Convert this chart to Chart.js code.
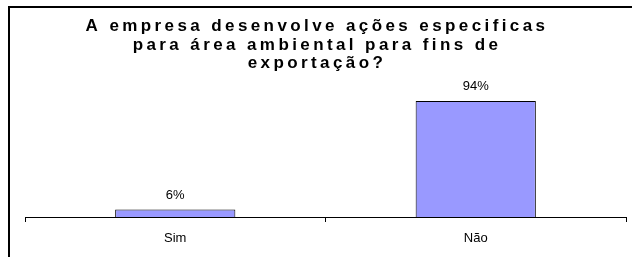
<!DOCTYPE html>
<html>
<head>
  <meta charset="utf-8" />
  <title>Ações ambientais para exportação</title>
  <style>
    html, body { margin: 0; padding: 0; background: #fff; }
    body { width: 632px; height: 257px; position: relative; overflow: hidden; }
    #frame { position: absolute; left: 8px; top: 6px; width: 640px; height: 270px;
             border-top: 2px solid #000; border-left: 2px solid #000; }
    .chart-box { position: absolute; left: 0; top: 0; width: 632px; height: 257px; }
  </style>
</head>
<body>
<div id="frame"></div>
<div class="chart-box">
  <canvas id="chart"></canvas>
</div>

<script src="https://cdn.jsdelivr.net/npm/chart.js"></script>
<script>
  // data
  var categories = ['Sim', 'Não'];
  var percentages = [6, 94];
  var titleLines = [
    'A empresa desenvolve ações especificas',
    'para área ambiental para fins de',
    'exportação?'
  ];

  // wide letter spacing on the title only, like the original Excel chart
  var spacedTitle = {
    id: 'spacedTitle',
    beforeDraw: function(chart) {
      var t = chart.titleBlock;
      if (t && !t._spaced) {
        var orig = t.draw.bind(t);
        t.draw = function() {
          chart.ctx.save();
          chart.ctx.letterSpacing = '3.4px';
          orig();
          chart.ctx.restore();
        };
        t._spaced = true;
      }
    }
  };

  // "6%" / "94%" above each bar
  var valueLabels = {
    id: 'valueLabels',
    afterDatasetsDraw: function(chart) {
      var ctx = chart.ctx;
      var meta = chart.getDatasetMeta(0);
      ctx.save();
      ctx.font = '13px "Liberation Sans", Arial, sans-serif';
      ctx.fillStyle = '#000';
      ctx.textAlign = 'center';
      ctx.textBaseline = 'middle';
      meta.data.forEach(function(bar, i) {
        ctx.fillText(percentages[i] + '%', bar.x, bar.y - 14);
      });
      ctx.restore();
    }
  };

  var ctx = document.getElementById('chart').getContext('2d');
  var chart = new Chart(ctx, {
    type: 'bar',
    data: {
      labels: categories,
      datasets: [{
        data: percentages,
        backgroundColor: '#9999ff',
        borderColor: '#000',
        borderWidth: 1,
        barPercentage: 0.4,
        categoryPercentage: 1
      }]
    },
    options: {
      responsive: true,
      maintainAspectRatio: false,
      animation: false,
      layout: { padding: { left: 8, right: 6, top: 0, bottom: 2 } },
      plugins: {
        legend: { display: false },
        tooltip: { enabled: false },
        title: {
          display: true,
          text: titleLines,
          color: '#000',
          font: { family: '"Liberation Sans", Arial, sans-serif', size: 17, weight: 'bold', lineHeight: 1.1 },
          padding: { top: 17, bottom: 20.4 }
        }
      },
      scales: {
        x: {
          grid: { display: true, drawOnChartArea: false, drawTicks: true, tickLength: 5, color: '#000', offset: true },
          border: { display: true, color: '#000', width: 1 },
          ticks: { color: '#000', padding: 10, font: { family: '"Liberation Sans", Arial, sans-serif', size: 13, lineHeight: 1 } }
        },
        y: {
          min: 0,
          max: 100,
          grid: { display: false },
          border: { display: false },
          ticks: { display: false },
          afterFit: function(scale) { scale.width = 17; }
        }
      }
    },
    plugins: [spacedTitle, valueLabels]
  });
</script>
</body>
</html>
